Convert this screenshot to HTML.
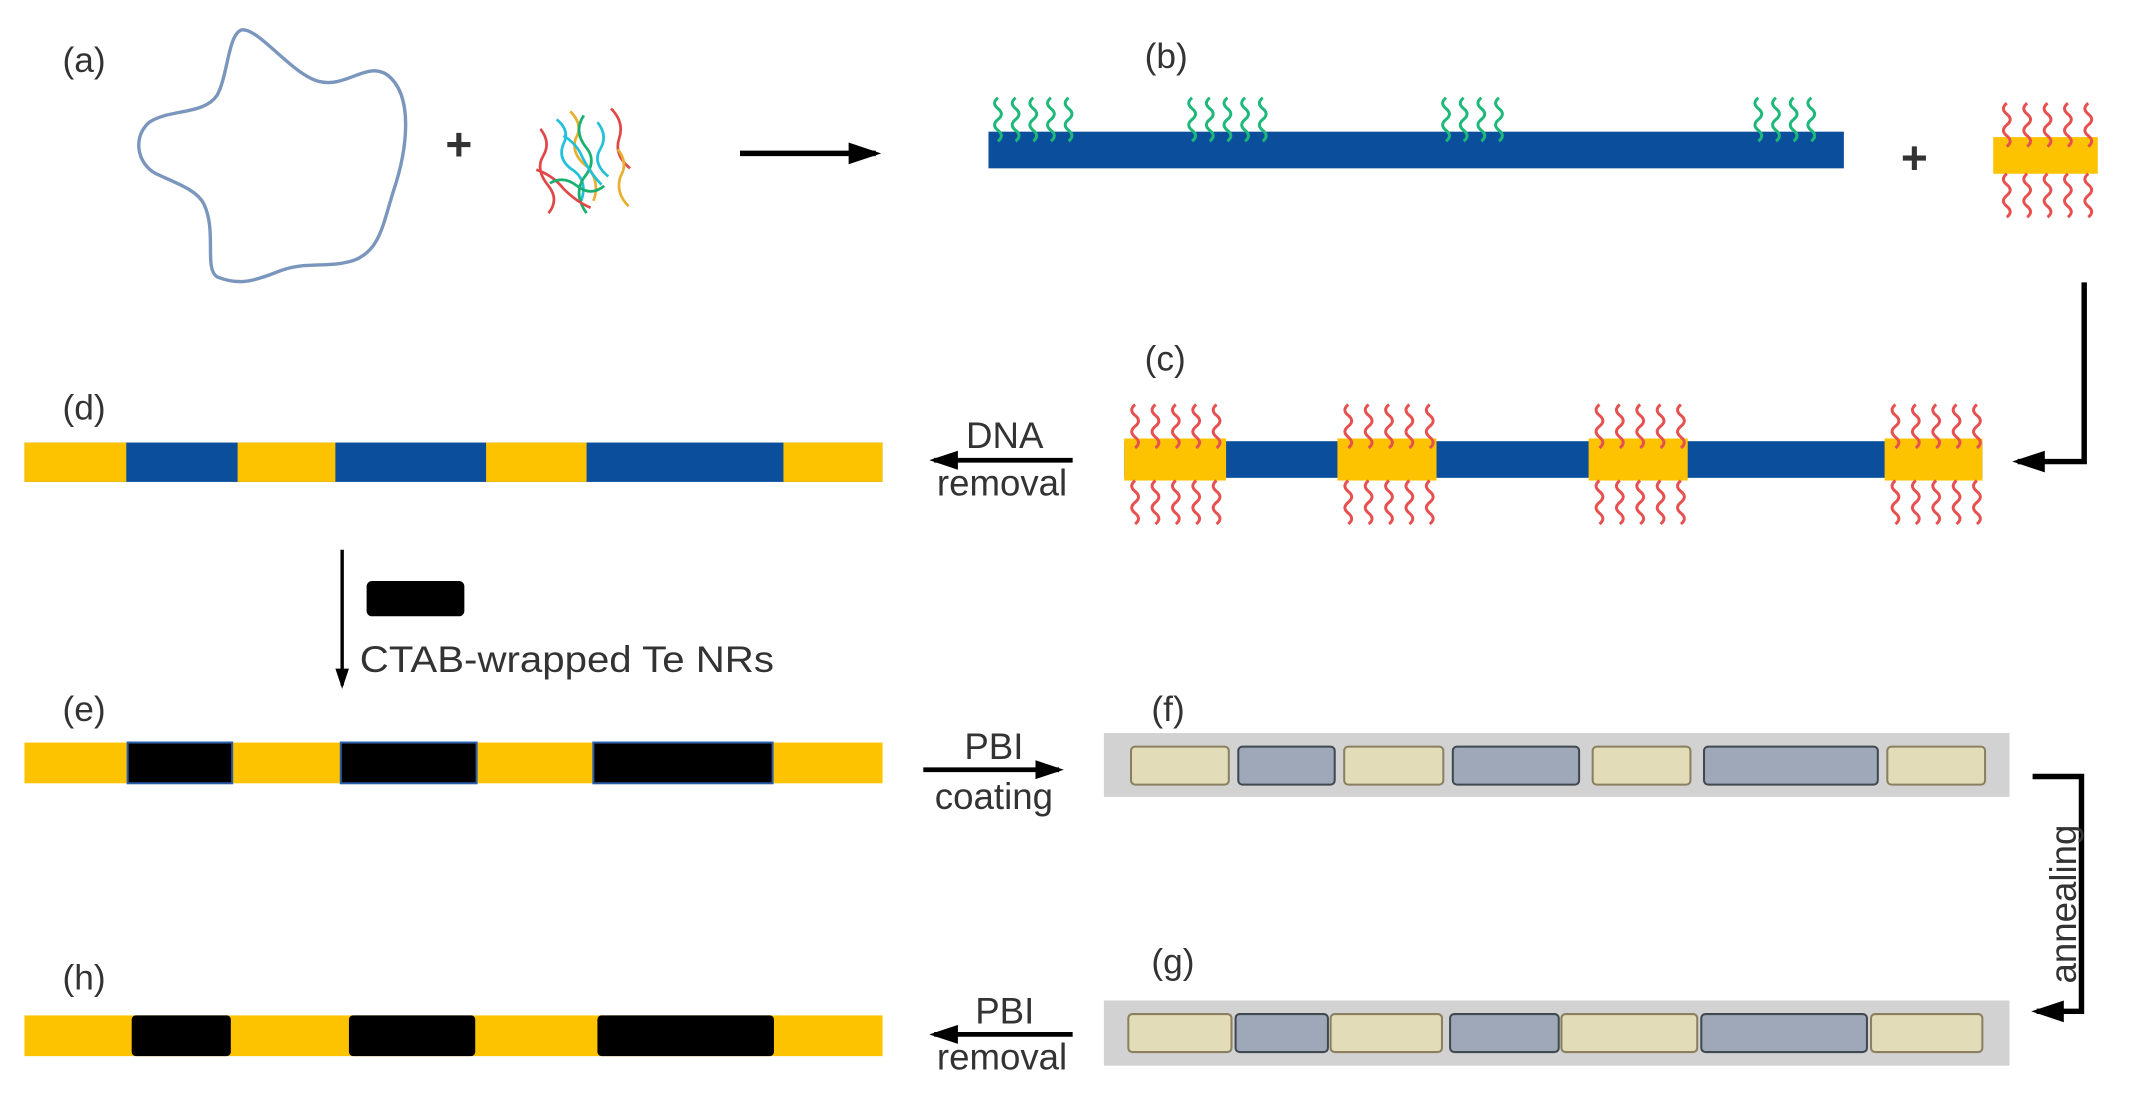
<!DOCTYPE html>
<html><head><meta charset="utf-8"><style>
html,body{margin:0;padding:0;background:#fff;}
svg{display:block;}
text{font-family:"Liberation Sans",Arial,sans-serif;fill:#333;}
</style></head><body>
<svg width="2129" height="1105" viewBox="0 0 1568 814" preserveAspectRatio="none" xmlns="http://www.w3.org/2000/svg">
<defs>
<path id="wv" d="M0,0 q-5,4 0,8 q5,4 0,8 q-5,4 0,8 q5,4 0,8" fill="none" stroke-width="2.2"/>
<marker id="ah" markerWidth="6" markerHeight="6" refX="5" refY="3" orient="auto" markerUnits="strokeWidth"><path d="M0,1 L6,3 L0,5z" fill="#000"/></marker>
</defs>
<rect width="1568" height="814" fill="#fff"/>
<g font-size="26">
<text x="46" y="53">(a)</text>
<text x="843" y="50">(b)</text>
<text x="843" y="273">(c)</text>
<text x="46" y="309">(d)</text>
<text x="46" y="531">(e)</text>
<text x="848" y="531">(f)</text>
<text x="848" y="717">(g)</text>
<text x="46" y="729">(h)</text>
</g>
<path d="M178,22 C190,20 215,55 235,60 C255,65 270,45 285,55 C305,70 300,110 290,140 C282,165 280,185 260,192 C240,198 225,192 205,200 C185,208 175,210 160,204 C150,198 160,170 150,150 C145,140 130,135 115,128 C100,120 98,100 110,90 C125,80 150,85 160,70 C168,55 168,25 178,22Z" fill="none" stroke="#7a96bd" stroke-width="2.5"/>
<text x="328" y="118" font-size="34" font-weight="bold" fill="#000">+</text>
<g fill="none" stroke-width="2">
<path d="M398,95 q8,10 2,20 q-6,10 4,22 q8,10 0,20" stroke="#e04848"/>
<path d="M410,88 q10,8 5,18 q-5,12 8,20 q10,8 5,22" stroke="#23c1d8"/>
<path d="M420,82 q10,10 4,20 q-4,12 10,22 q8,12 3,24" stroke="#e8b030"/>
<path d="M430,85 q-8,12 2,24 q8,10 -2,22 q-8,12 2,26" stroke="#1ab070"/>
<path d="M440,90 q8,10 2,20 q-6,10 6,20" stroke="#23c1d8"/>
<path d="M450,80 q10,10 6,22 q-4,12 8,22" stroke="#e04848"/>
<path d="M455,110 q8,10 2,20 q-4,12 6,22" stroke="#e8b030"/>
<path d="M395,125 q12,4 20,14 q10,10 20,14" stroke="#e04848"/>
<path d="M405,135 q10,-6 20,2 q10,8 20,0" stroke="#1ab070"/>
<path d="M415,100 q10,6 14,16 q6,12 14,20" stroke="#23c1d8"/>
</g>
<line x1="545" y1="113" x2="645" y2="113" stroke="#000" stroke-width="4" marker-end="url(#ah)"/>
<rect x="728" y="97" width="630" height="27" fill="#0b4f9c"/>
<g stroke="#1db87a">
<use href="#wv" x="735" y="72"/><use href="#wv" x="748" y="72"/><use href="#wv" x="761" y="72"/><use href="#wv" x="774" y="72"/><use href="#wv" x="787" y="72"/>
<use href="#wv" x="878" y="72"/><use href="#wv" x="891" y="72"/><use href="#wv" x="904" y="72"/><use href="#wv" x="917" y="72"/><use href="#wv" x="930" y="72"/>
<use href="#wv" x="1065" y="72"/><use href="#wv" x="1078" y="72"/><use href="#wv" x="1091" y="72"/><use href="#wv" x="1104" y="72"/>
<use href="#wv" x="1295" y="72"/><use href="#wv" x="1308" y="72"/><use href="#wv" x="1321" y="72"/><use href="#wv" x="1334" y="72"/>
</g>
<text x="1400" y="128" font-size="34" font-weight="bold" fill="#000">+</text>
<rect x="1468" y="101" width="77" height="27" fill="#fdc300"/>
<g stroke="#e85050">
<use href="#wv" x="1478" y="76"/><use href="#wv" x="1493" y="76"/><use href="#wv" x="1508" y="76"/><use href="#wv" x="1523" y="76"/><use href="#wv" x="1538" y="76"/>
<use href="#wv" x="1478" y="128"/><use href="#wv" x="1493" y="128"/><use href="#wv" x="1508" y="128"/><use href="#wv" x="1523" y="128"/><use href="#wv" x="1538" y="128"/>
</g>
<polyline points="1535,208 1535,340 1486,340" fill="none" stroke="#000" stroke-width="4" marker-end="url(#ah)"/>
<rect x="828" y="325" width="632" height="27" fill="#0b4f9c"/>
<g fill="#fdc300">
<rect x="828" y="323" width="75" height="31"/><rect x="985" y="323" width="73" height="31"/><rect x="1170" y="323" width="73" height="31"/><rect x="1388" y="323" width="72" height="31"/>
</g>
<g stroke="#e85050">
<use href="#wv" x="836" y="298"/><use href="#wv" x="851" y="298"/><use href="#wv" x="866" y="298"/><use href="#wv" x="881" y="298"/><use href="#wv" x="896" y="298"/>
<use href="#wv" x="836" y="354"/><use href="#wv" x="851" y="354"/><use href="#wv" x="866" y="354"/><use href="#wv" x="881" y="354"/><use href="#wv" x="896" y="354"/>
<use href="#wv" x="993" y="298"/><use href="#wv" x="1008" y="298"/><use href="#wv" x="1023" y="298"/><use href="#wv" x="1038" y="298"/><use href="#wv" x="1053" y="298"/>
<use href="#wv" x="993" y="354"/><use href="#wv" x="1008" y="354"/><use href="#wv" x="1023" y="354"/><use href="#wv" x="1038" y="354"/><use href="#wv" x="1053" y="354"/>
<use href="#wv" x="1178" y="298"/><use href="#wv" x="1193" y="298"/><use href="#wv" x="1208" y="298"/><use href="#wv" x="1223" y="298"/><use href="#wv" x="1238" y="298"/>
<use href="#wv" x="1178" y="354"/><use href="#wv" x="1193" y="354"/><use href="#wv" x="1208" y="354"/><use href="#wv" x="1223" y="354"/><use href="#wv" x="1238" y="354"/>
<use href="#wv" x="1396" y="298"/><use href="#wv" x="1411" y="298"/><use href="#wv" x="1426" y="298"/><use href="#wv" x="1441" y="298"/><use href="#wv" x="1456" y="298"/>
<use href="#wv" x="1396" y="354"/><use href="#wv" x="1411" y="354"/><use href="#wv" x="1426" y="354"/><use href="#wv" x="1441" y="354"/><use href="#wv" x="1456" y="354"/>
</g>
<line x1="790" y1="339" x2="688" y2="339" stroke="#000" stroke-width="3.5" marker-end="url(#ah)"/>
<text x="740" y="330" font-size="27" text-anchor="middle">DNA</text>
<text x="738" y="365" font-size="27" text-anchor="middle">removal</text>
<rect x="18" y="326" width="632" height="29" fill="#0b4f9c"/>
<g fill="#fdc300"><rect x="18" y="326" width="75" height="29"/><rect x="175" y="326" width="72" height="29"/><rect x="358" y="326" width="74" height="29"/><rect x="577" y="326" width="73" height="29"/></g>
<line x1="252" y1="405" x2="252" y2="505" stroke="#000" stroke-width="2.5" marker-end="url(#ah)"/>
<rect x="270" y="428" width="72" height="26" rx="4" fill="#000"/>
<text x="265" y="495" font-size="27" textLength="305" lengthAdjust="spacingAndGlyphs">CTAB-wrapped Te NRs</text>
<rect x="18" y="547" width="632" height="30" fill="#fdc300"/>
<g fill="#000" stroke="#2a5ca8" stroke-width="1.5"><rect x="94" y="547" width="77" height="30"/><rect x="251" y="547" width="100" height="30"/><rect x="437" y="547" width="132" height="30"/></g>
<line x1="680" y1="567" x2="780" y2="567" stroke="#000" stroke-width="3.5" marker-end="url(#ah)"/>
<text x="732" y="559" font-size="27" text-anchor="middle">PBI</text>
<text x="732" y="596" font-size="27" text-anchor="middle">coating</text>
<rect x="813" y="540" width="667" height="47" fill="#d2d2d2"/>
<g stroke="#8a8060" stroke-width="1.5">
<rect x="833" y="550" width="72" height="28" rx="3" fill="#e2dcb8"/><rect x="912" y="550" width="71" height="28" rx="3" fill="#9ea8b8" stroke="#404850"/>
<rect x="990" y="550" width="73" height="28" rx="3" fill="#e2dcb8"/><rect x="1070" y="550" width="93" height="28" rx="3" fill="#9ea8b8" stroke="#404850"/>
<rect x="1173" y="550" width="72" height="28" rx="3" fill="#e2dcb8"/><rect x="1255" y="550" width="128" height="28" rx="3" fill="#9ea8b8" stroke="#404850"/>
<rect x="1390" y="550" width="72" height="28" rx="3" fill="#e2dcb8"/>
</g>
<polyline points="1497,572 1533,572 1533,745 1500,745" fill="none" stroke="#000" stroke-width="4" marker-end="url(#ah)"/>
<text transform="translate(1529,666) rotate(-90)" font-size="27" text-anchor="middle">annealing</text>
<rect x="813" y="737" width="667" height="48" fill="#d2d2d2"/>
<g stroke="#8a8060" stroke-width="1.5">
<rect x="831" y="747" width="76" height="28" rx="3" fill="#e2dcb8"/><rect x="910" y="747" width="68" height="28" rx="3" fill="#9ea8b8" stroke="#404850"/>
<rect x="980" y="747" width="82" height="28" rx="3" fill="#e2dcb8"/><rect x="1068" y="747" width="80" height="28" rx="3" fill="#9ea8b8" stroke="#404850"/>
<rect x="1150" y="747" width="100" height="28" rx="3" fill="#e2dcb8"/><rect x="1253" y="747" width="122" height="28" rx="3" fill="#9ea8b8" stroke="#404850"/>
<rect x="1378" y="747" width="82" height="28" rx="3" fill="#e2dcb8"/>
</g>
<rect x="18" y="748" width="632" height="30" fill="#fdc300"/>
<g fill="#000"><rect x="97" y="748" width="73" height="30" rx="3"/><rect x="257" y="748" width="93" height="30" rx="3"/><rect x="440" y="748" width="130" height="30" rx="3"/></g>
<line x1="790" y1="762" x2="688" y2="762" stroke="#000" stroke-width="3.5" marker-end="url(#ah)"/>
<text x="740" y="754" font-size="27" text-anchor="middle">PBI</text>
<text x="738" y="788" font-size="27" text-anchor="middle">removal</text>
</svg>
</body></html>
